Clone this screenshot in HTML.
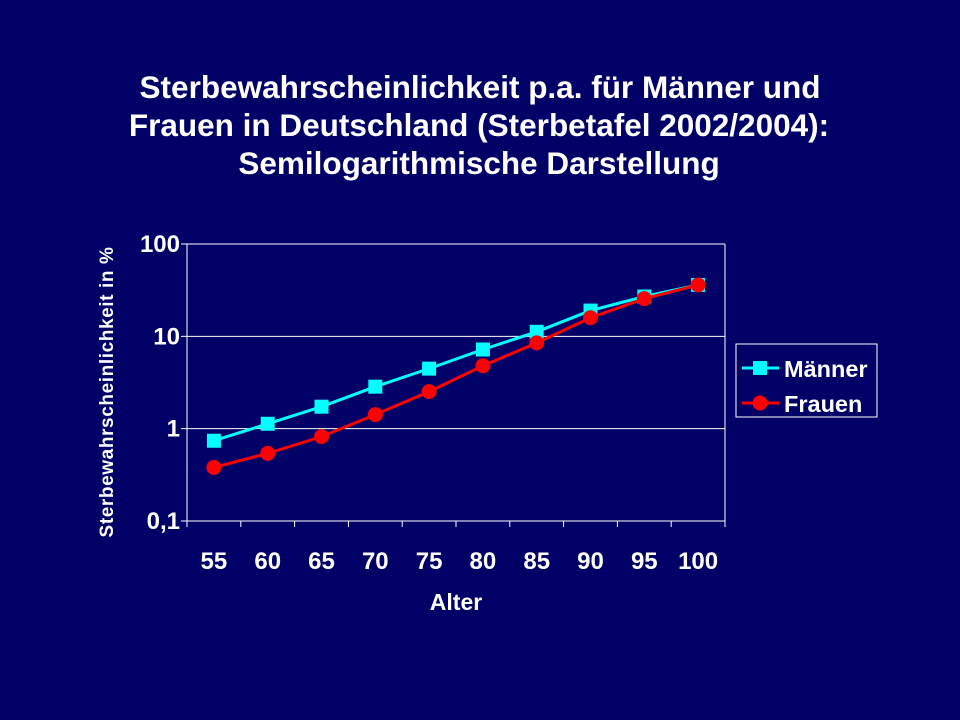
<!DOCTYPE html>
<html><head><meta charset="utf-8"><style>
body{margin:0;width:960px;height:720px;background:#000066;overflow:hidden;font-family:"Liberation Sans",Arial,sans-serif}
</style></head><body>
<svg width="960" height="720" viewBox="0 0 960 720" style="position:absolute;left:0;top:0">
<g fill="#fff" font-weight="bold" font-size="31.5" text-anchor="middle">
<text x="480" y="98">Sterbewahrscheinlichkeit p.a. für Männer und</text>
<text x="479" y="136">Frauen in Deutschland (Sterbetafel 2002/2004):</text>
<text x="479" y="174">Semilogarithmische Darstellung</text>
</g>
<g id="grid"></g>
<g id="axes"></g>
<g id="series"></g>
<text x="456" y="610" fill="#fff" font-weight="bold" font-size="23" text-anchor="middle">Alter</text>
<text transform="translate(113,392) rotate(-90)" fill="#fff" font-weight="bold" font-size="19" text-anchor="middle" letter-spacing="0.6">Sterbewahrscheinlichkeit in %</text>
<g>
<rect x="736" y="344" width="141" height="73" fill="#000066" stroke="#fff" stroke-width="1"/>
<line x1="742" y1="368" x2="779" y2="368" stroke="#00ffff" stroke-width="3"/>
<rect x="753" y="361" width="14" height="14" fill="#00ffff"/>
<text x="784" y="377" fill="#fff" font-weight="bold" font-size="23.5">Männer</text>
<line x1="742" y1="403" x2="779" y2="403" stroke="#ff0000" stroke-width="3"/>
<circle cx="760" cy="403" r="7.5" fill="#ff0000"/>
<text x="784" y="412" fill="#fff" font-weight="bold" font-size="23.5">Frauen</text>
</g>
</svg>
<script>
const categories=[55,60,65,70,75,80,85,90,95,100];
const maenner=[0.74,1.13,1.73,2.85,4.47,7.2,11.2,19,27,36];
const frauen=[0.38,0.54,0.82,1.42,2.52,4.8,8.5,15.9,25.6,36];
const yTicks=[0.1,1,10,100];
const yTickLabels=["0,1","1","10","100"];
const NS="http://www.w3.org/2000/svg";
const L=187,R=725,T=244,B=521;
const bw=(R-L)/categories.length;
const x=i=>L+bw*(i+0.5);
const y=v=>B-(Math.log10(v)+1)/3*(B-T);
function mk(tag,attrs,parent){const e=document.createElementNS(NS,tag);for(const k in attrs)e.setAttribute(k,attrs[k]);parent.appendChild(e);return e;}
const grid=document.getElementById('grid'),axes=document.getElementById('axes'),ser=document.getElementById('series');
yTicks.forEach((t,i)=>{
 if(i>0){const g=mk('line',{x1:L,x2:R,y1:y(t),y2:y(t),stroke:'#fff','stroke-width':1},grid);
 
 }
 mk('line',{x1:L-6,x2:L,y1:y(t),y2:y(t),stroke:'#fff','stroke-width':1},axes);
 const tx=mk('text',{x:L-7,y:y(t)+8,fill:'#fff','font-weight':'bold','font-size':24,'text-anchor':'end'},axes);
 tx.textContent=yTickLabels[i];
 
 
});
mk('line',{x1:L,x2:L,y1:T,y2:B,stroke:'#fff','stroke-width':1},axes);
mk('line',{x1:L,x2:R,y1:B,y2:B,stroke:'#fff','stroke-width':1},axes);
mk('line',{x1:R,x2:R,y1:T,y2:B,stroke:'#fff','stroke-width':1},axes);
for(let i=0;i<=categories.length;i++)mk('line',{x1:L+bw*i,x2:L+bw*i,y1:B,y2:B+6,stroke:'#fff'},axes);
categories.forEach((c,i)=>{
 const tx=mk('text',{x:x(i),y:569,fill:'#fff','font-weight':'bold','font-size':24,'text-anchor':'middle'},axes);
 tx.textContent=c;
 
 
});
function draw(vals,color,shape,name){
 const pl=mk('polyline',{points:vals.map((v,i)=>x(i)+','+y(v)).join(' '),fill:'none',stroke:color,'stroke-width':3},ser);
 
 
 vals.forEach((v,i)=>{
  let m;
  if(shape==='sq')m=mk('rect',{x:x(i)-7,y:y(v)-7,width:14,height:14,fill:color},ser);
  else m=mk('circle',{cx:x(i),cy:y(v),r:7.5,fill:color},ser);
  
  
 });
}
draw(maenner,'#00ffff','sq','maenner');
draw(frauen,'#ff0000','ci','frauen');
</script>
</body></html>
